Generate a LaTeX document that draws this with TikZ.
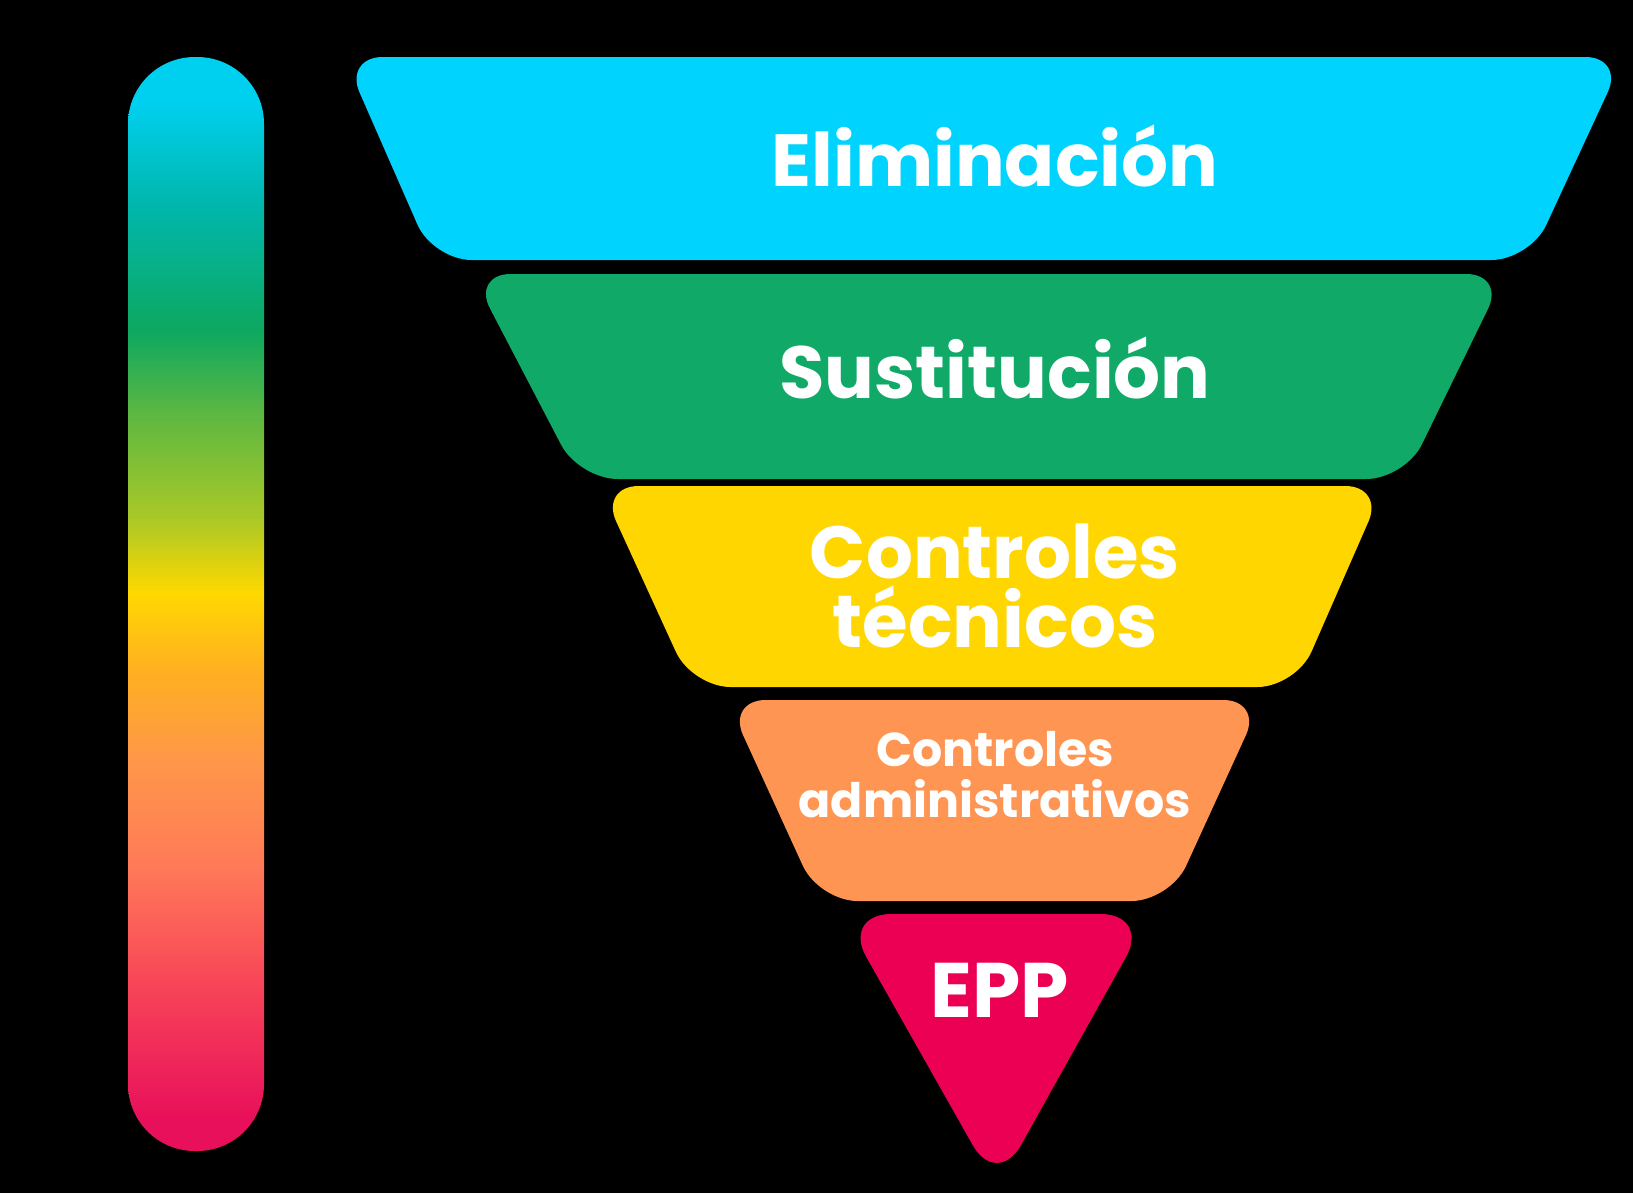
\documentclass[tikz,border=0pt]{standalone}
\usepackage{fontspec}
\setmainfont{Poppins}
\usepackage{tikz}
\usetikzlibrary{positioning}

\definecolor{elimcyan}{HTML}{00D3FD}
\definecolor{sustgreen}{HTML}{10A968}
\definecolor{tecyellow}{HTML}{FFD600}
\definecolor{admorange}{HTML}{FF9552}
\definecolor{eppred}{HTML}{EC0054}

\definecolor{barA}{HTML}{00D0F0}
\definecolor{barB}{HTML}{00B8B0}
\definecolor{barC}{HTML}{0DA860}
\definecolor{barD}{HTML}{60B840}
\definecolor{barE}{HTML}{A8C828}
\definecolor{barF}{HTML}{FFD800}
\definecolor{barG}{HTML}{FFB020}
\definecolor{barH}{HTML}{FF9848}
\definecolor{barI}{HTML}{FF7A58}
\definecolor{barJ}{HTML}{F84858}
\definecolor{barK}{HTML}{E8105A}

\pgfdeclareverticalshading{riskbar}{100bp}{
  color(0bp)=(barK); color(26.5bp)=(barK); color(33bp)=(barJ);
  color(38bp)=(barI); color(43bp)=(barH); color(47bp)=(barG);
  color(50.5bp)=(barF); color(54bp)=(barE); color(58.5bp)=(barD);
  color(62.5bp)=(barC); color(68.5bp)=(barB); color(73bp)=(barA);
  color(100bp)=(barA)}

\tikzset{
  level/.style={rounded corners=11pt},
  biglabel/.style={text=white, font=\bfseries\fontsize{21}{19.6}\selectfont, align=center},
  smalllabel/.style={text=white, font=\bfseries\fontsize{13.5}{14.5}\selectfont, align=center},
  sidelabel/.style={text=black, font=\fontsize{9}{10}\selectfont}
}

\begin{document}
\begin{tikzpicture}[x=0.01cm, y=-0.01cm]
  % Background
  \fill[black] (0,0) rectangle (1633,1193);
  \useasboundingbox (0,0) rectangle (1633,1193);

  % Effectiveness bar
  \shade[shading=riskbar, rounded corners=19pt] (128,57) rectangle (264,1151);
  \node[sidelabel] (most) at (198,26) {Más efectivo};
  \node[sidelabel] (least) at (200,1166) {Menos efectivo};

  % Control levels
  \foreach \yt/\yb/\xtl/\xtr/\xbl/\xbr/\col in {
      57/260/344/1624/433/1530/elimcyan,
      274/479/472/1505/579/1405/sustgreen,
      486/687/600/1384/692/1296/tecyellow,
      700/901/727/1262/819/1170/admorange}{
    \fill[level, \col] (\xtl,\yt) -- (\xtr,\yt) -- (\xbr,\yb) -- (\xbl,\yb) -- cycle;
  }
  \fill[eppred, rounded corners=14pt] (842,914) -- (1150,914) -- (997,1188) -- cycle;

  % Labels
  \node[biglabel] (elim) at (995,156) {Eliminación};
  \node[biglabel] (sust) at (995,368) {Sustitución};
  \node[biglabel] (tec) at (995,586) {Controles\\técnicos};
  \node[smalllabel] (adm) at (995,775) {Controles\\administrativos};
  \node[biglabel, font=\bfseries\fontsize{22}{22}\selectfont] (epp) at (1000,990) {EPP};
\end{tikzpicture}
\end{document}
